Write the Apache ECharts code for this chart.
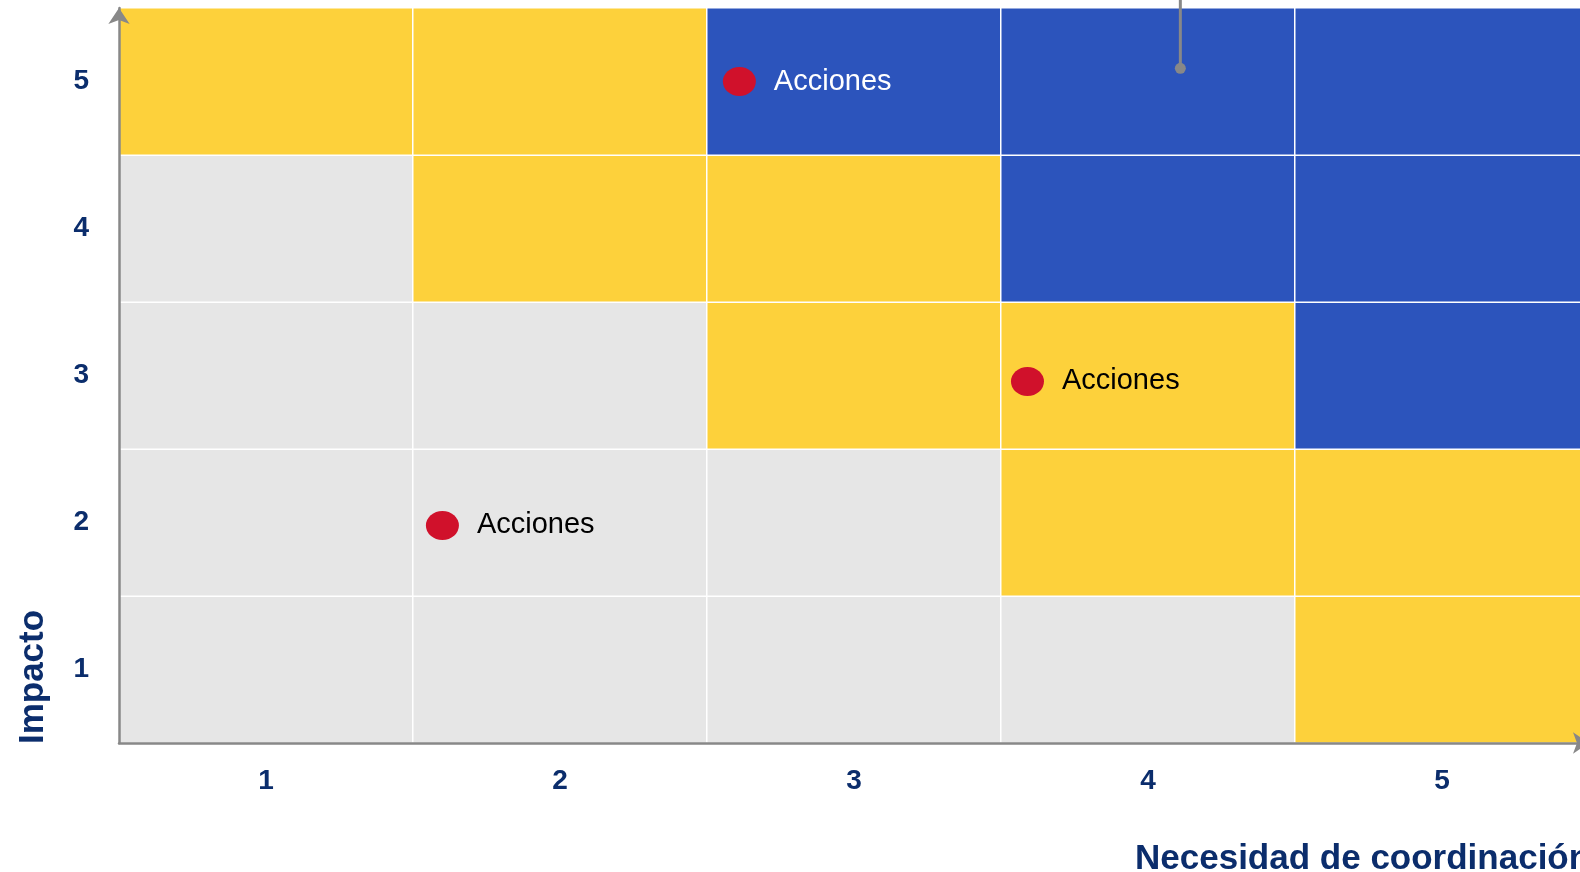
<!DOCTYPE html>
<html>
<head>
<meta charset="utf-8">
<script src="https://cdn.jsdelivr.net/npm/echarts@6/dist/echarts.min.js"></script>
<style>
html,body{margin:0;padding:0;background:#fff;overflow:hidden;}
#chart{width:1580px;height:872px;}
</style>
</head>
<body>
<div id="chart"></div>
<script>
// ---- data ----
const xCategories = ['1', '2', '3', '4', '5'];
const yCategories = ['1', '2', '3', '4', '5'];
// cell level per row (y = 1..5), columns x = 1..5 ; 0 = low, 1 = medium, 2 = high
const levelRowY1 = [0, 0, 0, 0, 1];
const levelRowY2 = [0, 0, 0, 1, 1];
const levelRowY3 = [0, 0, 1, 1, 2];
const levelRowY4 = [0, 1, 1, 2, 2];
const levelRowY5 = [1, 1, 2, 2, 2];
const levelColors = ['#E6E6E6', '#FDD13B', '#2C54BC'];

const pointLabels = ['Acciones', 'Acciones', 'Acciones'];
const pointX = [1.60, 2.61, 3.59];
const pointY = [1.98, 5.00, 2.96];

const leaderX = [4.11, 4.11];
const leaderY = [5.09, 5.56];

// ---- build ----
const levelRows = [levelRowY1, levelRowY2, levelRowY3, levelRowY4, levelRowY5];
const heatData = [];
levelRows.forEach((row, yi) => {
  row.forEach((lv, xi) => {
    heatData.push({ value: [xi, yi, lv], itemStyle: { color: levelColors[lv] } });
  });
});
const scatterData = pointX.map((x, i) => {
  const xi = Math.round(x) - 1, yi = Math.round(pointY[i]) - 1;
  const onBlue = levelRows[yi][xi] === 2;
  return { value: [x, pointY[i]], name: pointLabels[i], label: { color: onBlue ? '#FFFFFF' : '#000000' } };
});
const leaderData = leaderX.map((x, i) => [x, leaderY[i]]);

const navy = '#0B2D6C';
const font = "'Liberation Sans', Arial, sans-serif";
const axisLineCommon = { show: true, symbol: ['none', 'arrow'], symbolSize: [16, 16], lineStyle: { color: '#888888', width: 2.5 } };

const chart = echarts.init(document.getElementById('chart'));
chart.setOption({
  animation: false,
  grid: { left: 119, right: -9, top: 8, bottom: 129, containLabel: false, outerBoundsMode: 'none' },
  xAxis: [
    {
      type: 'category', data: xCategories, boundaryGap: true, z: 10,
      axisLine: axisLineCommon,
      axisTick: { show: false }, splitLine: { show: false },
      axisLabel: { margin: 24, color: navy, fontSize: 28, fontWeight: 'bold', fontFamily: font }
    },
    { type: 'value', min: 0.5, max: 5.5, show: false }
  ],
  yAxis: [
    {
      type: 'category', data: yCategories, boundaryGap: true, z: 10,
      axisLine: axisLineCommon,
      axisTick: { show: false }, splitLine: { show: false },
      axisLabel: { margin: 30, color: navy, fontSize: 28, fontWeight: 'bold', fontFamily: font, padding: [6, 0, 0, 0] }
    },
    { type: 'value', min: 0.5, max: 5.5, show: false }
  ],
  series: [
    {
      type: 'heatmap', xAxisIndex: 0, yAxisIndex: 0, data: heatData,
      itemStyle: { borderColor: '#FFFFFF', borderWidth: 1.5 },
      emphasis: { disabled: true }, z: 1
    },
    {
      type: 'line', xAxisIndex: 1, yAxisIndex: 1, data: leaderData, clip: false,
      lineStyle: { color: '#888888', width: 3 },
      symbol: 'circle', showAllSymbol: true,
      symbolSize: (v, p) => p.dataIndex === 0 ? 11 : 0,
      itemStyle: { color: '#888888', opacity: 1 }, z: 5, silent: true
    },
    {
      type: 'scatter', xAxisIndex: 1, yAxisIndex: 1, data: scatterData,
      symbol: 'circle', symbolSize: [33, 29],
      itemStyle: { color: '#D0112B', opacity: 1 },
      label: { show: true, position: 'right', distance: 18, formatter: '{b}', fontSize: 29, fontFamily: font },
      z: 6, silent: true
    }
  ],
  graphic: [
    {
      type: 'text', x: 33, y: 677, rotation: Math.PI / 2,
      style: { text: 'Impacto', font: 'bold 35px ' + font, fill: navy, textAlign: 'center', textVerticalAlign: 'middle' }
    },
    {
      type: 'text', x: 1135, y: 859,
      style: { text: 'Necesidad de coordinación', font: 'bold 35px ' + font, fill: navy, textAlign: 'left', textVerticalAlign: 'middle' }
    }
  ]
});
</script>
</body>
</html>
